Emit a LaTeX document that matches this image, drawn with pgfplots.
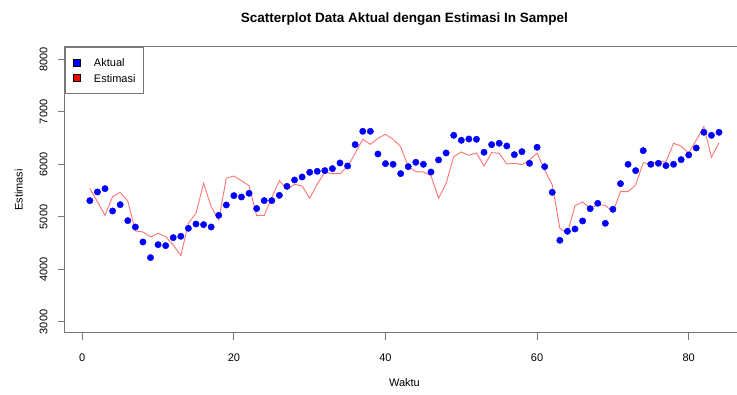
\documentclass[border=0pt]{standalone}
\usepackage{pgfplots}
\pgfplotsset{compat=1.18}
\usepackage{fontspec}
\setmainfont{Liberation Sans}
\definecolor{estred}{RGB}{255,115,115}
\definecolor{frame}{RGB}{120,120,120}
\begin{document}
\begin{tikzpicture}[font=\fontsize{11}{13}\selectfont]
\clip (0,0) rectangle (737pt,394pt);
\begin{axis}[
  at={(64.7pt,61.3pt)}, anchor=south west,
  scale only axis, width=679.5pt, height=285.7pt,
  xmin=-2.32, xmax=87.32, ymin=2796, ymax=8234,
  xtick={0,20,40,60,80}, ytick={3000,4000,5000,6000,7000,8000},
  scaled ticks=false,
  /pgf/number format/1000 sep={},
  /pgf/number format/assume math mode=true,
  tick align=outside, tick pos=left, major tick length=7pt,
  axis line style={frame, line width=1pt},
  major tick style={frame, line width=1pt},
  xticklabel style={anchor=north, inner sep=0pt},
  xticklabel shift=14pt,
  yticklabel style={rotate=90, anchor=south, inner sep=0pt},
  yticklabel shift=10pt,
  title={Scatterplot Data Aktual dengan Estimasi In Sampel},
  title style={at={(axis description cs:0.5,1)}, anchor=base, yshift=18pt, font=\bfseries\fontsize{13.5}{16}\selectfont},
  xlabel={Waktu},
  xlabel style={at={(axis description cs:0.5,0)}, anchor=north, inner sep=0pt, yshift=-46pt},
  ylabel={Estimasi},
  ylabel style={at={(axis description cs:-0.0614,0.5)}, anchor=south, inner sep=0pt},
  legend cell align=left,
  legend style={at={(axis description cs:0,1)}, anchor=north west, draw=frame, line width=1pt,
    inner xsep=8pt, inner ysep=11.5pt, row sep=7.3pt,
    nodes={inner sep=0pt, text height=7.9pt, text depth=0pt}},
  legend image code/.code={\draw[#1, draw=black, line width=0.6pt] (0pt,-3.5pt) rectangle (7pt,3.5pt); \path (20pt,0pt);},
]
\addplot[only marks, mark=*, mark size=3.2pt, color=blue, forget plot] coordinates {
(1,5310) (2,5475) (3,5538) (4,5113) (5,5233) (6,4929) (7,4808) (8,4523) (9,4225) (10,4472)
(11,4453) (12,4605) (13,4631) (14,4783) (15,4865) (16,4853) (17,4808) (18,5030) (19,5227) (20,5405)
(21,5379) (22,5449) (23,5160) (24,5310) (25,5310) (26,5411) (27,5582) (28,5703) (29,5760) (30,5849)
(31,5868) (32,5881) (33,5919) (34,6027) (35,5970) (36,6376) (37,6629) (38,6629) (39,6198) (40,6014)
(41,6001) (42,5824) (43,5957) (44,6040) (45,6001) (46,5855) (47,6084) (48,6217) (49,6553) (50,6458)
(51,6483) (52,6477) (53,6230) (54,6376) (55,6401) (56,6350) (57,6185) (58,6242) (59,6020) (60,6325)
(61,5957) (62,5468) (63,4555) (64,4726) (65,4770) (66,4923) (67,5157) (68,5259) (69,4878) (70,5145)
(71,5633) (72,6001) (73,5881) (74,6261) (75,6001) (76,6020) (77,5976) (78,6001) (79,6090) (80,6179)
(81,6312) (82,6610) (83,6553) (84,6610)
};
\addplot[color=estred, line width=0.9pt, no marks, forget plot] coordinates {
(1,5538) (2,5290) (3,5030) (4,5386) (5,5468) (6,5303) (7,4732) (8,4713) (9,4618) (10,4688)
(11,4624) (12,4466) (13,4263) (14,4878) (15,5068) (16,5640) (17,5195) (18,4942) (19,5735) (20,5779)
(21,5690) (22,5595) (23,5024) (24,5030) (25,5367) (26,5690) (27,5525) (28,5620) (29,5589) (30,5354)
(31,5627) (32,5849) (33,5824) (34,5824) (35,5957) (36,6211) (37,6477) (38,6382) (39,6496) (40,6572)
(41,6477) (42,6338) (43,5957) (44,5862) (45,5855) (46,5785) (47,5354) (48,5640) (49,6147) (50,6236)
(51,6173) (52,6217) (53,5970) (54,6224) (55,6211) (56,6008) (57,6020) (58,5995) (59,6084) (60,6211)
(61,5893) (62,5608) (63,4783) (64,4688) (65,5214) (66,5284) (67,5164) (68,5233) (69,5221) (70,5090)
(71,5481) (72,5481) (73,5608) (74,6033) (75,6001) (76,6065) (77,6046) (78,6401) (79,6350) (80,6211)
(81,6464) (82,6718) (83,6134) (84,6414)
};
\addlegendimage{fill=blue}
\addlegendentry{Aktual}
\addlegendimage{fill=red}
\addlegendentry{Estimasi}
\end{axis}
\end{tikzpicture}
\end{document}
